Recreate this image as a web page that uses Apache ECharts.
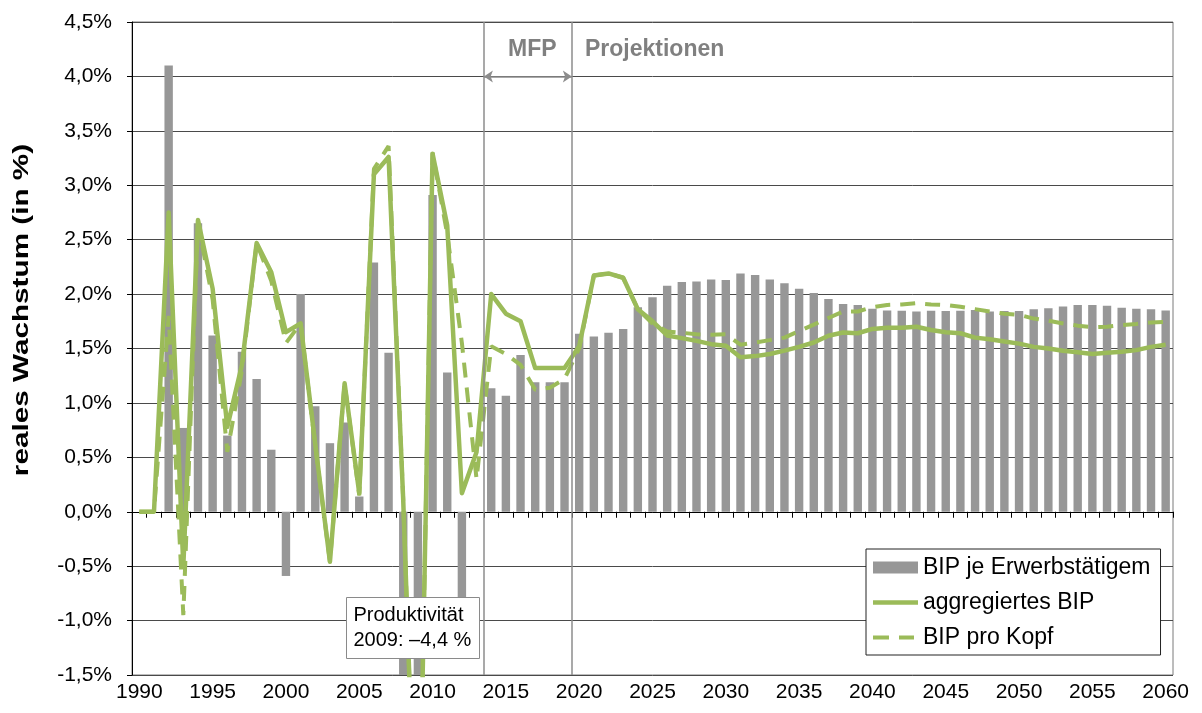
<!DOCTYPE html>
<html><head><meta charset="utf-8">
<script src="https://cdn.jsdelivr.net/npm/echarts@6/dist/echarts.min.js"></script>
<style>html,body{margin:0;padding:0;background:#fff}#c{width:1202px;height:713px}</style>
</head><body><div id="c"></div>
<script>
const years = ['1990','1991','1992','1993','1994','1995','1996','1997','1998','1999',
 '2000','2001','2002','2003','2004','2005','2006','2007','2008','2009',
 '2010','2011','2012','2013','2014','2015','2016','2017','2018','2019',
 '2020','2021','2022','2023','2024','2025','2026','2027','2028','2029',
 '2030','2031','2032','2033','2034','2035','2036','2037','2038','2039',
 '2040','2041','2042','2043','2044','2045','2046','2047','2048','2049',
 '2050','2051','2052','2053','2054','2055','2056','2057','2058','2059','2060'];

// BIP je Erwerbstätigem (bars)
const bipJeErwerb = [null,null,4.1,0.77,2.65,1.62,0.7,1.47,1.22,0.57,
 -0.59,2.0,0.97,0.63,0.82,0.14,2.29,1.46,-2.0,-4.4,
 2.91,1.28,-0.9,0,1.135,1.065,1.44,1.19,1.19,1.19,
 1.635,1.61,1.645,1.68,1.88,1.97,2.077,2.11,2.115,2.135,
 2.13,2.19,2.175,2.135,2.10,2.05,2.01,1.955,1.91,1.90,
 1.865,1.85,1.847,1.84,1.847,1.845,1.847,1.853,1.84,1.845,
 1.845,1.86,1.87,1.887,1.90,1.90,1.893,1.875,1.865,1.86,1.85];

// aggregiertes BIP (solid line)
const bipAggregiert = [0,0,2.75,-0.5,2.68,2.05,0.78,1.35,2.47,2.2,
 1.65,1.73,0.62,-0.46,1.18,0.17,3.1,3.26,0.1,-3.8,
 3.29,2.63,0.17,0.55,2.0,1.82,1.75,1.32,1.32,1.32,
 1.52,2.17,2.19,2.15,1.86,1.75,1.62,1.595,1.57,1.54,
 1.525,1.42,1.43,1.45,1.48,1.515,1.555,1.617,1.647,1.64,
 1.68,1.69,1.69,1.70,1.67,1.65,1.64,1.60,1.585,1.565,
 1.545,1.515,1.50,1.48,1.465,1.45,1.46,1.47,1.485,1.515,1.535];

// BIP pro Kopf (dashed line)
const bipProKopf = [0,0,1.8,-0.95,2.65,1.95,0.55,1.3,2.47,2.12,
 1.55,1.73,0.6,-0.46,1.18,0.15,3.15,3.36,0.1,-3.8,
 3.3,2.55,1.55,0.3,1.52,1.45,1.35,1.12,1.14,1.22,
 1.5,2.17,2.19,2.15,1.86,1.73,1.656,1.645,1.63,1.627,
 1.63,1.535,1.555,1.577,1.60,1.66,1.72,1.78,1.84,1.84,
 1.88,1.90,1.905,1.917,1.905,1.90,1.883,1.862,1.84,1.82,
 1.81,1.775,1.755,1.73,1.71,1.695,1.70,1.715,1.725,1.74,1.745];

const FONT = '"Liberation Sans", Arial, sans-serif';
const GREEN = '#9BBB59';
const GREY_TXT = '#808080';
const ICON_SOLID = 'path://M0,0M45,12M0,3.8L45,3.8L45,8.2L0,8.2Z';
const ICON_DASH = 'path://M0,0M45,12M0,4L16,4L16,8L0,8Z M26,4L41,4L41,8L26,8Z';

const chart = echarts.init(document.getElementById('c'), null, {renderer:'canvas'});
const option = {
  animation: false,
  backgroundColor: '#fff',
  textStyle: {fontFamily: FONT},
  grid: {left: 132, right: 29, top: 22, bottom: 38, show: true, borderColor: '#7a7a7a', borderWidth: 1, backgroundColor: 'transparent'},
  legend: {
    orient: 'vertical', left: 866, top: 549,
    padding: [7, 10, 6, 7], itemGap: 12, itemWidth: 45, itemHeight: 12,
    borderColor: '#222', borderWidth: 1, backgroundColor: '#fff',
    textStyle: {fontSize: 23, color: '#000', fontFamily: FONT, lineHeight: 23},
    data: [
      {name: 'BIP je Erwerbstätigem', icon: 'rect'},
      {name: 'aggregiertes BIP', icon: ICON_SOLID},
      {name: 'BIP pro Kopf', icon: ICON_DASH}
    ]
  },
  xAxis: [
    {type: 'category', data: years, position: 'bottom', boundaryGap: true,
     axisLine: {show: false, onZero: false}, axisTick: {show: false},
     axisLabel: {interval: 4, fontSize: 21, color: '#000', fontFamily: FONT, margin: 7},
     splitLine: {show: false}},
    {type: 'category', data: years, position: 'bottom', boundaryGap: true,
     axisLine: {show: true, onZero: true, lineStyle: {color: '#000', width: 1}},
     axisTick: {show: true, interval: 0, length: 6, lineStyle: {color: '#000'}},
     axisLabel: {show: false}, splitLine: {show: false}},
    {type: 'value', min: 1989.5, max: 2060.5, show: false, position: 'top',
     axisLine: {onZero: false}, splitLine: {show: false}}
  ],
  yAxis: {
    type: 'value', min: -1.5, max: 4.5, interval: 0.5,
    axisLine: {show: true, onZero: false, lineStyle: {color: '#000'}},
    axisTick: {show: true, length: 5, lineStyle: {color: '#000'}},
    axisLabel: {fontSize: 21, color: '#000', fontFamily: FONT, margin: 20,
      formatter: v => v.toFixed(1).replace('.', ',') + '%'},
    splitLine: {lineStyle: {color: '#4a4a4a', width: 1}}
  },
  series: [
    {name: 'BIP je Erwerbstätigem', type: 'bar', xAxisIndex: 0, data: bipJeErwerb,
     barWidth: 8.4, itemStyle: {color: '#979797'}, z: 2},
    {name: 'aggregiertes BIP', type: 'line', xAxisIndex: 0, data: bipAggregiert,
     symbol: 'none', showSymbol: false, color: GREEN,
     lineStyle: {color: GREEN, width: 4.5, type: 'solid', join: 'round'}, z: 4},
    {name: 'BIP pro Kopf', type: 'line', xAxisIndex: 0, data: bipProKopf,
     symbol: 'none', showSymbol: false, color: GREEN,
     lineStyle: {color: GREEN, width: 4, type: [15, 10]}, z: 3},
    {name: 'marks', type: 'line', xAxisIndex: 2, data: [], silent: true,
     markLine: {
       silent: true, symbol: ['none', 'none'], animation: false,
       label: {show: false},
       lineStyle: {color: '#8c8c8c', width: 1.5, type: 'solid'},
       data: [
         {xAxis: 2013.5},
         {xAxis: 2019.5},
         [{coord: [2013.5, 4.0], symbol: 'arrow', symbolSize: 9},
          {coord: [2019.5, 4.0], symbol: 'arrow', symbolSize: 9}]
       ]
     }}
  ],
  graphic: [
    {type: 'text', x: 22, y: 310, rotation: Math.PI / 2, scaleX: 1.35, z: 100,
     style: {text: 'reales Wachstum (in %)', fill: '#000', font: 'bold 22px ' + FONT,
             align: 'center', verticalAlign: 'middle'}},
    {type: 'text', left: 508, top: 38, z: 100,
     style: {text: 'MFP', fill: GREY_TXT, font: 'bold 23px ' + FONT}},
    {type: 'text', left: 585, top: 38, z: 100,
     style: {text: 'Projektionen', fill: GREY_TXT, font: 'bold 23px ' + FONT}},
    {type: 'group', left: 346, top: 597, z: 100, children: [
      {type: 'rect', shape: {x: 0, y: 0, width: 133, height: 61}, z: 100,
       style: {fill: '#fff', stroke: '#8a8a8a', lineWidth: 1}},
      {type: 'text', x: 7, y: 5, z: 101,
       style: {text: 'Produktivität\n2009: –4,4 %', fill: '#000', font: '20px ' + FONT, lineHeight: 25}}
    ]}
  ]
};
chart.setOption(option);
</script></body></html>
